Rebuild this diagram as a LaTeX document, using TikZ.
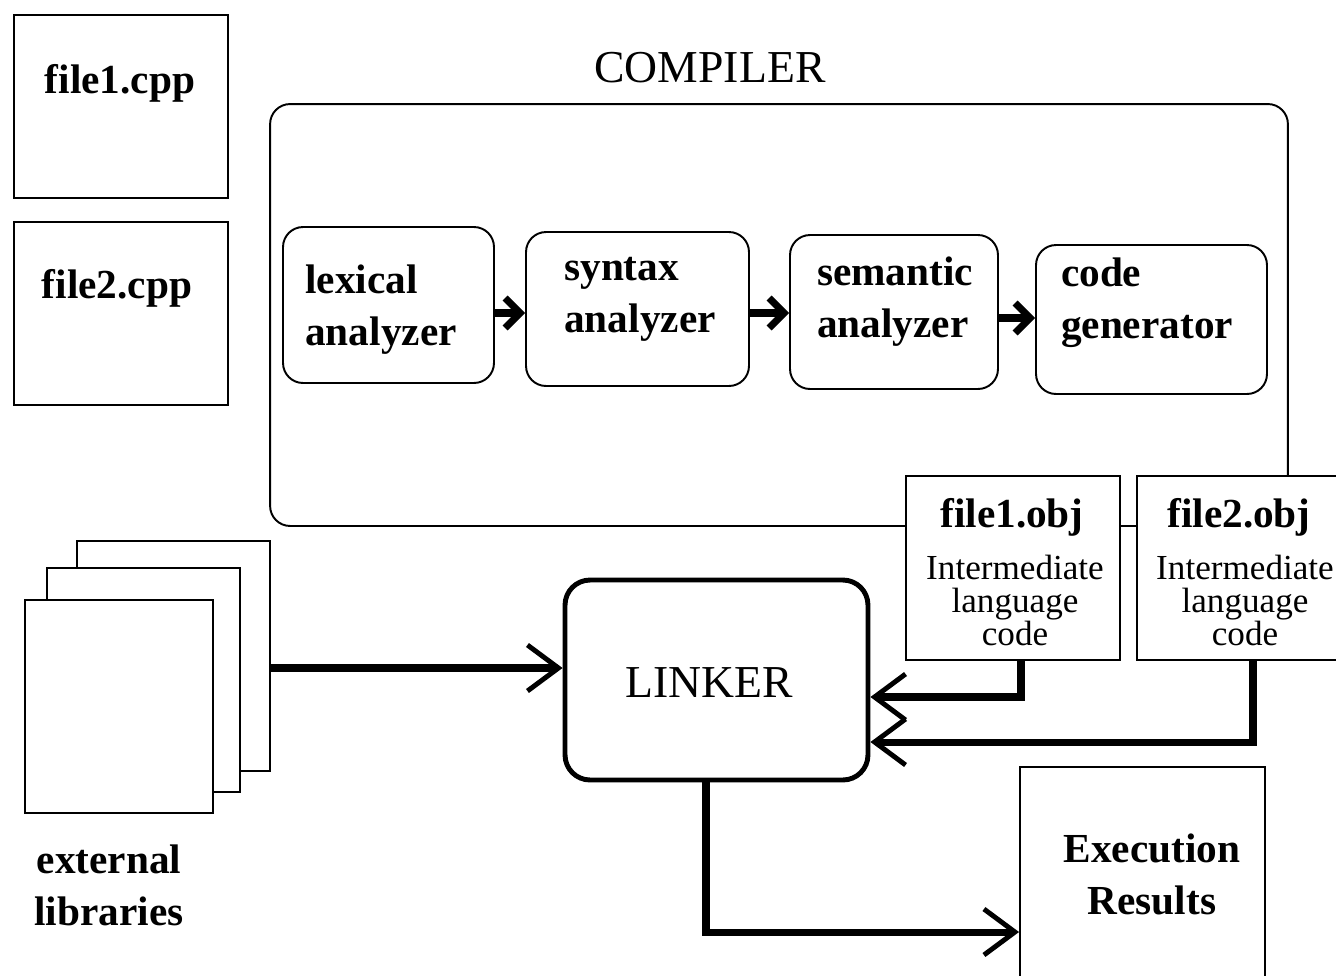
\documentclass[tikz,border=0pt]{standalone}
\usepackage{fontspec}
\setmainfont{Liberation Serif}
\usetikzlibrary{arrows.meta}

\begin{document}
\begin{tikzpicture}[x=0.02cm, y=-0.02cm,
  box/.style   = {draw, line width=1.1pt, fill=white, inner sep=0pt},
  stage/.style = {box, rounded corners=0.4cm},
  btxt/.style  = {font=\fontsize{23.5}{29.5}\selectfont\bfseries, align=left, inner sep=0pt},
  rtxt/.style  = {font=\fontsize{26}{30}\selectfont, inner sep=0pt},
  itxt/.style  = {font=\fontsize{20}{18.8}\selectfont, align=center, inner sep=0pt},
  arr/.style   = {line width=4pt, -{Straight Barb[length=0.3cm, width=0.6cm]}},
  bigarr/.style = {line width=4pt, -{Straight Barb[length=0.62cm, width=0.92cm, line width=2.8pt]}}]
  \useasboundingbox (0,0) rectangle (1336,975);

  \node[box, minimum width=4.28cm, minimum height=3.66cm] (cpp1) at (121,106.5) {};
  \node[btxt] (cpp1t) at (120,83) {file1.cpp};
  \node[box, minimum width=4.28cm, minimum height=3.66cm] (cpp2) at (121,313.5) {};
  \node[btxt] (cpp2t) at (117,288) {file2.cpp};

  % compiler and its stages
  \node[box, rounded corners=0.4cm, minimum width=20.36cm, minimum height=8.44cm] (comp) at (779,315) {};
  \node[rtxt] (compt) at (710,68) {COMPILER};

  \node[stage, minimum width=4.22cm, minimum height=3.12cm] (lex) at (388.5,305) {};
  \node[btxt] (lext) at (381,310) {lexical\\analyzer};
  \node[stage, minimum width=4.46cm, minimum height=3.08cm] (syn) at (637.5,309) {};
  \node[btxt] (synt) at (640,299) {syntax\\analyzer};
  \node[stage, minimum width=4.16cm, minimum height=3.08cm] (sem) at (894,312) {};
  \node[btxt] (semt) at (895,302) {semantic\\analyzer};
  \node[stage, minimum width=4.62cm, minimum height=2.98cm] (gen) at (1151.5,319.5) {};
  \node[btxt] (gent) at (1147,303) {code\\generator};

  \draw[arr] (lex.east |- 0,313) -- (syn.west |- 0,313);
  \draw[arr] (syn.east |- 0,313) -- (sem.west |- 0,313);
  \draw[arr] (sem.east |- 0,318) -- (gen.west |- 0,318);

  % object files
  \node[box, minimum width=4.28cm, minimum height=3.68cm] (obj1) at (1013,568) {};
  \node[btxt] (obj1t) at (1012,517) {file1.obj};
  \node[itxt] (obj1c) at (1015,600) {Intermediate\\language\\code};
  \node[box, minimum width=4.28cm, minimum height=3.68cm] (obj2) at (1244,568) {};
  \node[btxt] (obj2t) at (1239,517) {file2.obj};
  \node[itxt] (obj2c) at (1245,600) {Intermediate\\language\\code};

  % libraries
  \node[box, minimum width=3.86cm, minimum height=4.6cm] (lib3) at (173.5,656) {};
  \node[box, minimum width=3.86cm, minimum height=4.48cm] (lib2) at (143.5,680) {};
  \node[box, minimum width=3.76cm, minimum height=4.26cm] (lib1) at (119,706.5) {};
  \node[btxt, align=center] (libt) at (109,885) {external\\libraries};

  \node[draw, line width=2.8pt, rounded corners=0.5cm, minimum width=6.06cm, minimum height=4cm,
        font=\fontsize{26}{30}\selectfont] (link) at (716.5,680) {};
  \node[rtxt] (linkt) at (709,683) {LINKER};

  \node[box, minimum width=4.9cm, minimum height=4.28cm] (exec) at (1142.5,874) {};
  \node[btxt, align=center] (exect) at (1152,874) {Execution\\Results};

  \draw[bigarr] (lib3.east |- 0,668) -- (link.west |- 0,668);
  \draw[bigarr] (obj1.south -| 1021,0) |- (link.east |- 0,697);
  \draw[bigarr] (obj2.south -| 1253,0) |- (link.east |- 0,742);
  \draw[bigarr] (link.south -| 706,0) |- (exec.west |- 0,932);
\end{tikzpicture}
\end{document}
